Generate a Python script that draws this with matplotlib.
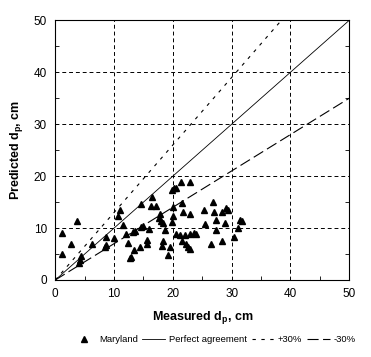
#!/usr/bin/env python3
"""
Predicted vs measured scour depth (Maryland data) with +/-30% bands
"""

import numpy as np
import matplotlib
matplotlib.use('Agg')
import matplotlib.pyplot as plt
from matplotlib.ticker import MultipleLocator

measured = [1.2, 1.2, 2.7, 3.7, 4.0, 4.2, 4.3, 6.2, 8.4, 8.6,
            8.6, 10.0, 10.7, 11.0, 11.6, 12.1, 12.4, 12.7, 12.9, 13.4,
            13.3, 13.6, 14.4, 14.5, 14.6, 15.0, 15.6, 15.6, 15.9, 16.4,
            16.2, 17.1, 17.6, 17.8, 18.0, 18.4, 18.7, 18.4, 18.2, 19.2,
            19.5, 19.8, 19.8, 20.2, 20.5, 20.1, 20.1, 21.4, 22.9, 21.5,
            21.7, 22.9, 20.6, 21.2, 22.1, 22.9, 23.6, 23.9, 21.5, 22.3,
            22.6, 22.9, 25.3, 25.5, 26.8, 27.0, 27.3, 27.3, 26.4, 28.3,
            28.4, 28.9, 29.1, 29.3, 30.4, 31.0, 31.4, 31.7]
predicted = [5.0, 9.0, 7.0, 11.4, 3.3, 3.8, 4.6, 6.9, 6.3, 6.7,
             8.3, 8.1, 12.4, 13.5, 10.6, 8.8, 7.2, 4.3, 4.5, 5.7,
             9.2, 9.5, 6.4, 14.6, 10.2, 10.4, 7.7, 7.0, 9.9, 16.0,
             14.3, 14.3, 12.0, 12.8, 11.3, 10.9, 9.7, 7.5, 6.6, 4.9,
             6.4, 11.2, 17.4, 17.7, 17.8, 14.0, 12.3, 18.8, 18.8, 14.9,
             13.1, 12.7, 8.8, 8.6, 8.7, 8.8, 9.0, 8.9, 7.5, 7.0,
             6.4, 6.0, 13.5, 10.8, 15.1, 13.0, 11.5, 9.6, 7.0, 13.0,
             7.6, 11.0, 13.8, 13.5, 8.2, 10.1, 11.5, 11.3]

axis_max = 50
ticks = [0, 10, 20, 30, 40, 50]
band = 0.30


def main():
    plt.rcParams.update({
        'font.family': ['Liberation Sans', 'DejaVu Sans'],
        'mathtext.fontset': 'custom',
        'mathtext.rm': 'Liberation Sans',
        'mathtext.bf': 'Liberation Sans:bold',
    })

    fig = plt.figure(figsize=(3.71, 3.57), dpi=100)
    ax = fig.add_axes([0.149, 0.2157, 0.7925, 0.7275])

    # reference lines
    x = np.array([0, axis_max])
    ax.plot(x, x, color='black', linewidth=0.6, label='Perfect agreement')
    x_up = np.array([0, axis_max / (1 + band)])
    ax.plot(x_up, x_up * (1 + band), color='black', linewidth=0.8,
            linestyle=(0, (3, 5)), label='+30%')
    ax.plot(x, x * (1 - band), color='black', linewidth=0.8,
            linestyle=(0, (10, 4)), label='-30%')

    # data
    ax.plot(measured, predicted, linestyle='none', marker='^', markersize=5,
            color='black', label='Maryland', zorder=5)

    ax.set_xlim(0, axis_max)
    ax.set_ylim(0, axis_max)
    ax.set_xticks(ticks)
    ax.set_yticks(ticks)
    ax.xaxis.set_minor_locator(MultipleLocator(5))
    ax.yaxis.set_minor_locator(MultipleLocator(5))
    ax.tick_params(which='major', length=0, labelsize=8.5, pad=6)
    ax.tick_params(which='minor', direction='in', length=3, width=0.6,
                   right=True)
    ax.grid(True, which='major', color='black', linewidth=0.7,
            linestyle=(0, (4, 3)))
    for s in ax.spines.values():
        s.set_linewidth(0.8)

    ax.set_xlabel(r'Measured d$_\mathbf{p}$, cm', fontsize=9,
                  fontweight='bold', labelpad=6)
    ax.set_ylabel(r'Predicted d$_\mathbf{p}$, cm', fontsize=9,
                  fontweight='bold', labelpad=6)

    handles, labels = ax.get_legend_handles_labels()
    order = [3, 0, 1, 2]
    fig.legend([handles[i] for i in order], [labels[i] for i in order],
               loc='center', bbox_to_anchor=(0.577, 0.048), ncol=4,
               frameon=False, fontsize=6.8, handlelength=2.4,
               handletextpad=0.4, columnspacing=0.5, markerscale=0.8)

    fig.savefig('out.png', dpi=100, facecolor='white')


if __name__ == "__main__":
    main()
